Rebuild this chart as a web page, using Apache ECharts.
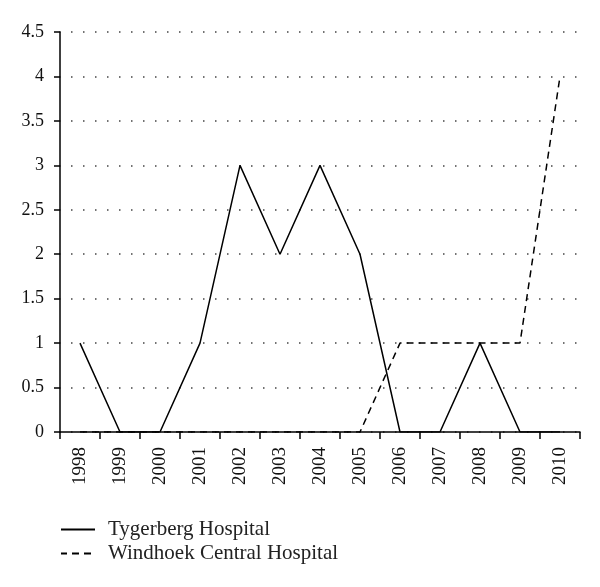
<!DOCTYPE html>
<html>
<head>
<meta charset="utf-8">
<script src="https://cdn.jsdelivr.net/npm/echarts@6/dist/echarts.min.js"></script>
<style>html,body{margin:0;padding:0;background:#fff}#c{width:600px;height:587px}</style>
</head>
<body>
<div id="c"></div>
<script>
const years = ['1998','1999','2000','2001','2002','2003','2004','2005','2006','2007','2008','2009','2010'];
const tygerberg = [1,0,0,1,3,2,3,2,0,0,1,0,0];
const windhoek = [0,0,0,0,0,0,0,0,1,1,1,1,4];
const seriesNames = ['Tygerberg Hospital','Windhoek Central Hospital'];
const font = 'Liberation Serif';
const chart = echarts.init(document.getElementById('c'));
chart.setOption({
  animation:false,
  backgroundColor:'#fff',
  textStyle:{fontFamily:font},
  grid:{left:60,right:20,top:32,bottom:155,containLabel:false},
  legend:{
    orient:'vertical',left:60,top:519,padding:0,itemWidth:34,itemHeight:14,itemGap:3,
    itemStyle:{opacity:0},
    textStyle:{fontFamily:font,fontSize:21,color:'#222',padding:[0,0,0,8]},
    data:seriesNames
  },
  xAxis:{
    type:'category',data:years,boundaryGap:true,
    axisLine:{lineStyle:{color:'#000',width:1.5}},
    axisTick:{show:true,length:7,alignWithLabel:false,lineStyle:{color:'#000',width:1.5}},
    axisLabel:{rotate:90,margin:15,fontFamily:font,fontSize:19,color:'#111'},
    splitLine:{show:false}
  },
  yAxis:{
    type:'value',min:0,max:4.5,interval:0.5,
    axisLine:{show:true,lineStyle:{color:'#000',width:1.5}},
    axisTick:{show:true,length:6,lineStyle:{color:'#000',width:1.5}},
    axisLabel:{margin:16,fontFamily:font,fontSize:18,color:'#111'},
    splitLine:{show:true,lineStyle:{color:'#444',width:1.5,type:[1.5,10.5],dashOffset:-11}}
  },
  series:[
    {name:seriesNames[0],type:'line',data:tygerberg,symbol:'none',
     lineStyle:{color:'#000',width:1.5,type:'solid'},itemStyle:{color:'#000'}},
    {name:seriesNames[1],type:'line',data:windhoek,symbol:'none',
     lineStyle:{color:'#000',width:1.5,type:[7,5]},itemStyle:{color:'#000'}}
  ]
});
</script>
</body>
</html>
